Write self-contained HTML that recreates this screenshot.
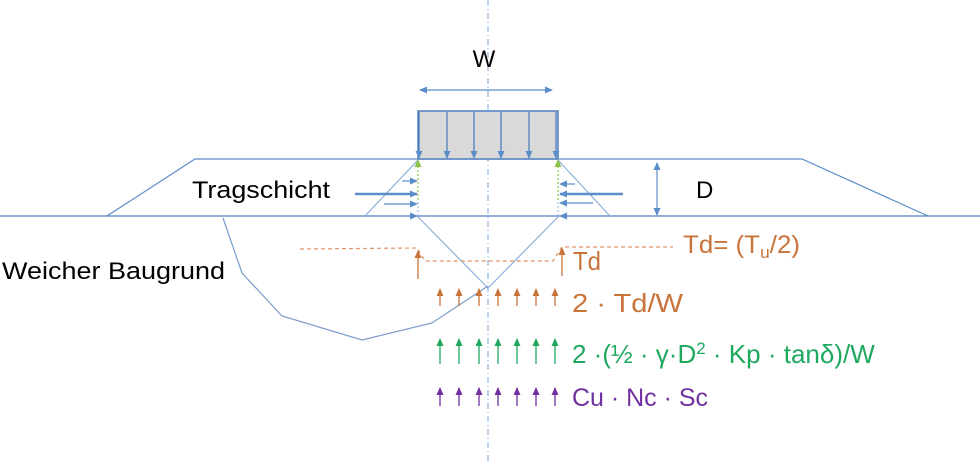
<!DOCTYPE html>
<html><head><meta charset="utf-8"><style>
html,body{margin:0;padding:0;background:#fff;width:980px;height:462px;overflow:hidden}
svg{display:block}
text{font-family:"Liberation Sans",sans-serif}
</style></head><body>
<svg width="980" height="462" viewBox="0 0 980 462" xmlns="http://www.w3.org/2000/svg">
<defs>
<marker id="b" markerWidth="8" markerHeight="8" refX="7" refY="4" orient="auto" markerUnits="userSpaceOnUse"><path d="M0,0.5 L8,4 L0,7.5 z" fill="#5b8ec9"/></marker>
<marker id="bs" markerWidth="8" markerHeight="8" refX="1" refY="4" orient="auto" markerUnits="userSpaceOnUse"><path d="M8,0.5 L0,4 L8,7.5 z" fill="#5b8ec9"/></marker>
<marker id="o" markerWidth="8" markerHeight="8" refX="7" refY="4" orient="auto" markerUnits="userSpaceOnUse"><path d="M0,0.5 L8,4 L0,7.5 z" fill="#c8743a"/></marker>
<marker id="g" markerWidth="8" markerHeight="8" refX="7" refY="4" orient="auto" markerUnits="userSpaceOnUse"><path d="M0,0.5 L8,4 L0,7.5 z" fill="#1fa860"/></marker>
<marker id="gl" markerWidth="8" markerHeight="8" refX="7" refY="4" orient="auto" markerUnits="userSpaceOnUse"><path d="M0,0.5 L8,4 L0,7.5 z" fill="#8bc34a"/></marker>
<marker id="p" markerWidth="8" markerHeight="8" refX="7" refY="4" orient="auto" markerUnits="userSpaceOnUse"><path d="M0,0.5 L8,4 L0,7.5 z" fill="#7030a0"/></marker>
</defs>
<line x1="488" y1="0" x2="488" y2="462" stroke="#7aa6d6" stroke-width="1" stroke-dasharray="6,3,1,3"/>
<text x="484" y="67" font-size="24" text-anchor="middle" fill="#000">W</text>
<line x1="420" y1="90" x2="552" y2="90" stroke="#5b8ec9" stroke-width="1.2" marker-start="url(#bs)" marker-end="url(#b)"/>
<polyline points="107,216 195,159 802,159 928,216" fill="none" stroke="#5b8ec9" stroke-width="1.2"/>
<line x1="0" y1="216" x2="980" y2="216" stroke="#4f7fbf" stroke-width="1.2"/>
<rect x="418" y="111" width="140" height="48" fill="#d9d9d9" stroke="#4f7fbf" stroke-width="1.5"/>
<g stroke="#4f7fbf" stroke-width="1.3">
<line x1="419" y1="112" x2="419" y2="158" marker-end="url(#b)"/>
<line x1="447" y1="112" x2="447" y2="158" marker-end="url(#b)"/>
<line x1="474" y1="112" x2="474" y2="158" marker-end="url(#b)"/>
<line x1="501" y1="112" x2="501" y2="158" marker-end="url(#b)"/>
<line x1="529" y1="112" x2="529" y2="158" marker-end="url(#b)"/>
<line x1="556" y1="112" x2="556" y2="158" marker-end="url(#b)"/>
</g>
<line x1="418" y1="160" x2="365" y2="216" stroke="#8fb0d8" stroke-width="1.2"/>
<line x1="558" y1="160" x2="610" y2="216" stroke="#8fb0d8" stroke-width="1.2"/>
<line x1="418" y1="162" x2="418" y2="216" stroke="#8fb0d8" stroke-width="1" stroke-dasharray="2,2"/>
<line x1="558" y1="162" x2="558" y2="216" stroke="#8fb0d8" stroke-width="1" stroke-dasharray="2,2"/>
<line x1="418" y1="200" x2="418" y2="160" stroke="#8bc34a" stroke-width="1.2" stroke-dasharray="2,2" marker-end="url(#gl)"/>
<line x1="558" y1="200" x2="558" y2="160" stroke="#8bc34a" stroke-width="1.2" stroke-dasharray="2,2" marker-end="url(#gl)"/>
<g stroke="#5b8ec9">
<line x1="402" y1="181" x2="417" y2="181" stroke-width="1.2" marker-end="url(#b)"/>
<line x1="355" y1="194" x2="417" y2="194" stroke-width="2.5" marker-end="url(#b)"/>
<line x1="384" y1="204" x2="417" y2="204" stroke-width="1.2" marker-end="url(#b)"/>
<line x1="410" y1="216" x2="417" y2="216" stroke-width="1.2" marker-end="url(#b)"/>
<line x1="575" y1="184" x2="560" y2="184" stroke-width="1.2" marker-end="url(#b)"/>
<line x1="623" y1="194" x2="560" y2="194" stroke-width="2.5" marker-end="url(#b)"/>
<line x1="593" y1="203" x2="560" y2="203" stroke-width="1.2" marker-end="url(#b)"/>
<line x1="566" y1="216" x2="560" y2="216" stroke-width="1.2" marker-end="url(#b)"/>
<line x1="657" y1="163" x2="657" y2="215" stroke-width="1.2" marker-start="url(#bs)" marker-end="url(#b)"/>
</g>
<text x="192" y="198" font-size="24" fill="#000" textLength="138" lengthAdjust="spacingAndGlyphs">Tragschicht</text>
<text x="696" y="198" font-size="24" fill="#000">D</text>
<polyline points="418,217 488,288 558,217" fill="none" stroke="#8fb0d8" stroke-width="1.2"/>
<polyline points="223,218 242,273 282,316 362,340 432,323 488,286" fill="none" stroke="#7a9cc8" stroke-width="1.2"/>
<text x="2" y="279" font-size="24" fill="#000" textLength="223" lengthAdjust="spacingAndGlyphs">Weicher Baugrund</text>
<polyline points="300,249 417,248 425,261 553,261 562,247 673,247" fill="none" stroke="#e0956a" stroke-width="1.2" stroke-dasharray="4,3"/>
<line x1="418" y1="279" x2="418" y2="251" stroke="#c8743a" stroke-width="1.3" marker-end="url(#o)"/>
<line x1="562" y1="276" x2="562" y2="248" stroke="#c8743a" stroke-width="1.3" marker-end="url(#o)"/>
<text x="573" y="270" font-size="26" fill="#c8743a" textLength="28" lengthAdjust="spacingAndGlyphs">Td</text>
<text x="683" y="253" font-size="25" fill="#c8743a" textLength="117" lengthAdjust="spacingAndGlyphs">Td= (T<tspan font-size="17" dy="5">u</tspan><tspan dy="-5">/2)</tspan></text>
<g stroke-width="1.3">
<g stroke="#c8743a">
<line x1="440" y1="306" x2="440" y2="289" marker-end="url(#o)"/><line x1="459" y1="306" x2="459" y2="289" marker-end="url(#o)"/><line x1="479" y1="306" x2="479" y2="289" marker-end="url(#o)"/><line x1="498" y1="306" x2="498" y2="289" marker-end="url(#o)"/><line x1="517" y1="306" x2="517" y2="289" marker-end="url(#o)"/><line x1="536" y1="306" x2="536" y2="289" marker-end="url(#o)"/><line x1="555" y1="306" x2="555" y2="289" marker-end="url(#o)"/>
</g>
<g stroke="#1fa860">
<line x1="440" y1="364" x2="440" y2="339" marker-end="url(#g)"/><line x1="459" y1="364" x2="459" y2="339" marker-end="url(#g)"/><line x1="479" y1="364" x2="479" y2="339" marker-end="url(#g)"/><line x1="498" y1="364" x2="498" y2="339" marker-end="url(#g)"/><line x1="517" y1="364" x2="517" y2="339" marker-end="url(#g)"/><line x1="536" y1="364" x2="536" y2="339" marker-end="url(#g)"/><line x1="555" y1="364" x2="555" y2="339" marker-end="url(#g)"/>
</g>
<g stroke="#7030a0">
<line x1="440" y1="406" x2="440" y2="388" marker-end="url(#p)"/><line x1="459" y1="406" x2="459" y2="388" marker-end="url(#p)"/><line x1="479" y1="406" x2="479" y2="388" marker-end="url(#p)"/><line x1="498" y1="406" x2="498" y2="388" marker-end="url(#p)"/><line x1="517" y1="406" x2="517" y2="388" marker-end="url(#p)"/><line x1="536" y1="406" x2="536" y2="388" marker-end="url(#p)"/><line x1="555" y1="406" x2="555" y2="388" marker-end="url(#p)"/>
</g>
</g>
<text x="572" y="312" font-size="26" fill="#c8743a" textLength="111" lengthAdjust="spacingAndGlyphs">2 · Td/W</text>
<text x="572" y="363" font-size="26" fill="#1fa860">2 ·(½ · γ·D<tspan font-size="17" dy="-9">2</tspan><tspan dy="9"> · Kp · tanδ)/W</tspan></text>
<text x="572" y="406" font-size="25" fill="#7030a0" textLength="136" lengthAdjust="spacingAndGlyphs">Cu · Nc · Sc</text>
</svg>
</body></html>
